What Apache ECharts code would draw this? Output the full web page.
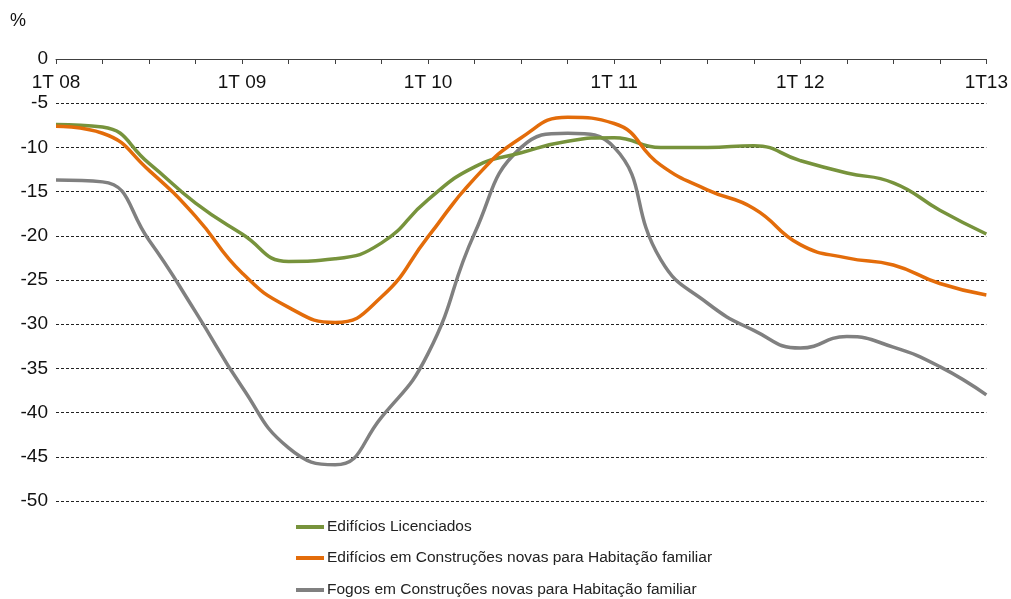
<!DOCTYPE html>
<html><head><meta charset="utf-8">
<script src="https://cdn.jsdelivr.net/npm/echarts@6/dist/echarts.min.js"></script>
<style>html,body{margin:0;padding:0;background:#fff}#c{width:1011px;height:599px}</style>
</head><body><div id="c"></div>
<script>
const categories = ['1T 08','2T 08','3T 08','4T 08','1T 09','2T 09','3T 09','4T 09','1T 10','2T 10','3T 10','4T 10','1T 11','2T 11','3T 11','4T 11','1T 12','2T 12','3T 12','4T 12','1T13'];
const seriesNames = ['Edifícios Licenciados','Edifícios em Construções novas para Habitação familiar','Fogos em Construções novas para Habitação familiar'];
const licenciados = [-7.4,-7.7,-11.8,-16.3,-19.8,-22.9,-22.6,-20.8,-15.9,-12.2,-10.6,-9.3,-8.9,-10.0,-10.0,-9.8,-11.5,-12.9,-14.0,-17.1,-19.8];
const edificiosConstr = [-7.6,-8.4,-12.6,-17.8,-24.2,-28.1,-29.8,-26.9,-20.1,-13.5,-8.9,-6.6,-7.3,-12.0,-14.8,-16.9,-21.0,-22.5,-23.3,-25.4,-26.7];
const fogosConstr = [-13.7,-13.9,-20.5,-28.6,-37.1,-44.0,-45.9,-40.5,-33.3,-19.7,-10.0,-8.4,-10.0,-22.7,-27.6,-30.7,-32.7,-31.4,-32.6,-34.8,-38.0];
const yTicks = {min:-50, max:0, interval:5};

const colors = ['#77933C','#E36C0A','#808080'];
const chart = echarts.init(document.getElementById('c'));
const font = '"Liberation Sans", Arial, sans-serif';
const legendTops = [519, 550, 582];
chart.setOption({
  animation:false,
  color: colors,
  textStyle:{fontFamily:font},
  title:{text:'%', left:10, top:12, padding:0, textStyle:{fontSize:18, fontWeight:'normal', color:'#111', fontFamily:font}},
  grid:{left:56, right:24, top:59, bottom:98, containLabel:false},
  legend: seriesNames.map((n, i) => ({
    orient:'horizontal', left:296, top:legendTops[i], padding:0,
    icon:'rect', itemWidth:28, itemHeight:4,
    textStyle:{fontSize:15.5, color:'#222', fontFamily:font, padding:[0,0,0,-2]},
    data:[n]
  })),
  xAxis:{
    type:'category', position:'top', boundaryGap:false, data:categories,
    axisLine:{show:true, lineStyle:{color:'#404040', width:1}},
    axisTick:{show:true, inside:true, length:5, interval:0, lineStyle:{color:'#404040'}},
    axisLabel:{inside:true, interval:3, margin:14, fontSize:19, color:'#111', fontFamily:font},
    splitLine:{show:false}
  },
  yAxis:{
    type:'value', min:yTicks.min, max:yTicks.max, interval:yTicks.interval,
    axisLine:{show:false}, axisTick:{show:false},
    axisLabel:{fontSize:19, color:'#111', margin:8, fontFamily:font},
    splitLine:{show:true, lineStyle:{type:[3,2], color:'#222', width:1}}
  },
  series:[
    {name:seriesNames[0], type:'line', data:licenciados, smooth:0.5, symbol:'none', lineStyle:{width:3.5}, z:3},
    {name:seriesNames[1], type:'line', data:edificiosConstr, smooth:0.5, symbol:'none', lineStyle:{width:3.5}, z:4},
    {name:seriesNames[2], type:'line', data:fogosConstr, smooth:0.5, symbol:'none', lineStyle:{width:3.5}, z:2}
  ]
});
</script></body></html>
